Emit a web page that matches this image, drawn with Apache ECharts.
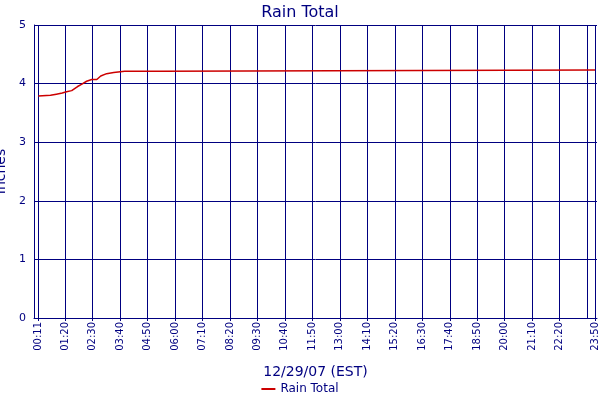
<!DOCTYPE html>
<html>
<head>
<meta charset="UTF-8">
<script src="https://cdn.jsdelivr.net/npm/echarts@6/dist/echarts.min.js"></script>
</head>
<body style="margin:0">
<div id="chart" style="width:600px;height:400px"></div>
<script>
// minutes since midnight, inches
var times = [12, 43, 58, 73, 84, 97, 102, 112, 123, 135, 148, 161, 171, 186, 204, 232, 321, 326, 1430];
var rain = [3.79, 3.80, 3.82, 3.84, 3.86, 3.88, 3.89, 3.95, 3.99, 4.04, 4.07, 4.07, 4.13, 4.17, 4.19, 4.21, 4.21, 4.23, 4.23];
var tickMinutes = [11, 80, 150, 220, 290, 360, 430, 500, 570, 640, 710, 780, 850, 920, 990, 1060, 1130, 1200, 1270, 1340, 1410, 1430];

function fmt(m) {
    var h = Math.floor(m / 60), mm = m % 60;
    return (h < 10 ? '0' : '') + h + ':' + (mm < 10 ? '0' : '') + mm;
}

var navy = '#000080';
var myChart = echarts.init(document.getElementById('chart'));
myChart.setOption({
    animation: false,
    textStyle: {fontFamily: 'DejaVu Sans'},
    title: {text: 'Rain Total', left: 'center', top: 0, textStyle: {color: navy, fontSize: 16, fontWeight: 'normal'}},
    legend: {bottom: 0, left: 'center', itemWidth: 14, itemHeight: 2, icon: 'rect',
        textStyle: {color: navy, fontSize: 12}, data: ['Rain Total']},
    grid: {left: 34, right: 3, top: 25, bottom: 82, containLabel: false, outerBoundsMode: 'none'},
    xAxis: {
        type: 'value', min: 1, max: 1435,
        name: '12/29/07 (EST)', nameLocation: 'middle', nameGap: 47,
        nameTextStyle: {color: navy, fontSize: 14},
        axisLine: {lineStyle: {color: navy}},
        axisTick: {show: true, customValues: tickMinutes, length: 3, lineStyle: {color: navy}},
        axisLabel: {customValues: tickMinutes, rotate: 90, color: navy, fontSize: 10, margin: 4,
            hideOverlap: false, showMaxLabel: true, formatter: function (v) { return fmt(v); }},
        splitLine: {show: true, lineStyle: {color: navy, width: 1}}
    },
    yAxis: {
        type: 'value', min: 0, max: 5, interval: 1,
        name: 'Inches', nameLocation: 'middle', nameGap: 20,
        nameTextStyle: {color: navy, fontSize: 14},
        axisLine: {show: true, lineStyle: {color: navy}},
        axisTick: {show: false},
        axisLabel: {color: navy, fontSize: 11, margin: 8},
        splitLine: {lineStyle: {color: navy, width: 1}}
    },
    series: [{
        name: 'Rain Total', type: 'line', showSymbol: false,
        lineStyle: {color: '#cc0000', width: 1.5}, itemStyle: {color: '#cc0000'},
        data: times.map(function (t, i) { return [t, rain[i]]; })
    }]
});
</script>
</body>
</html>
